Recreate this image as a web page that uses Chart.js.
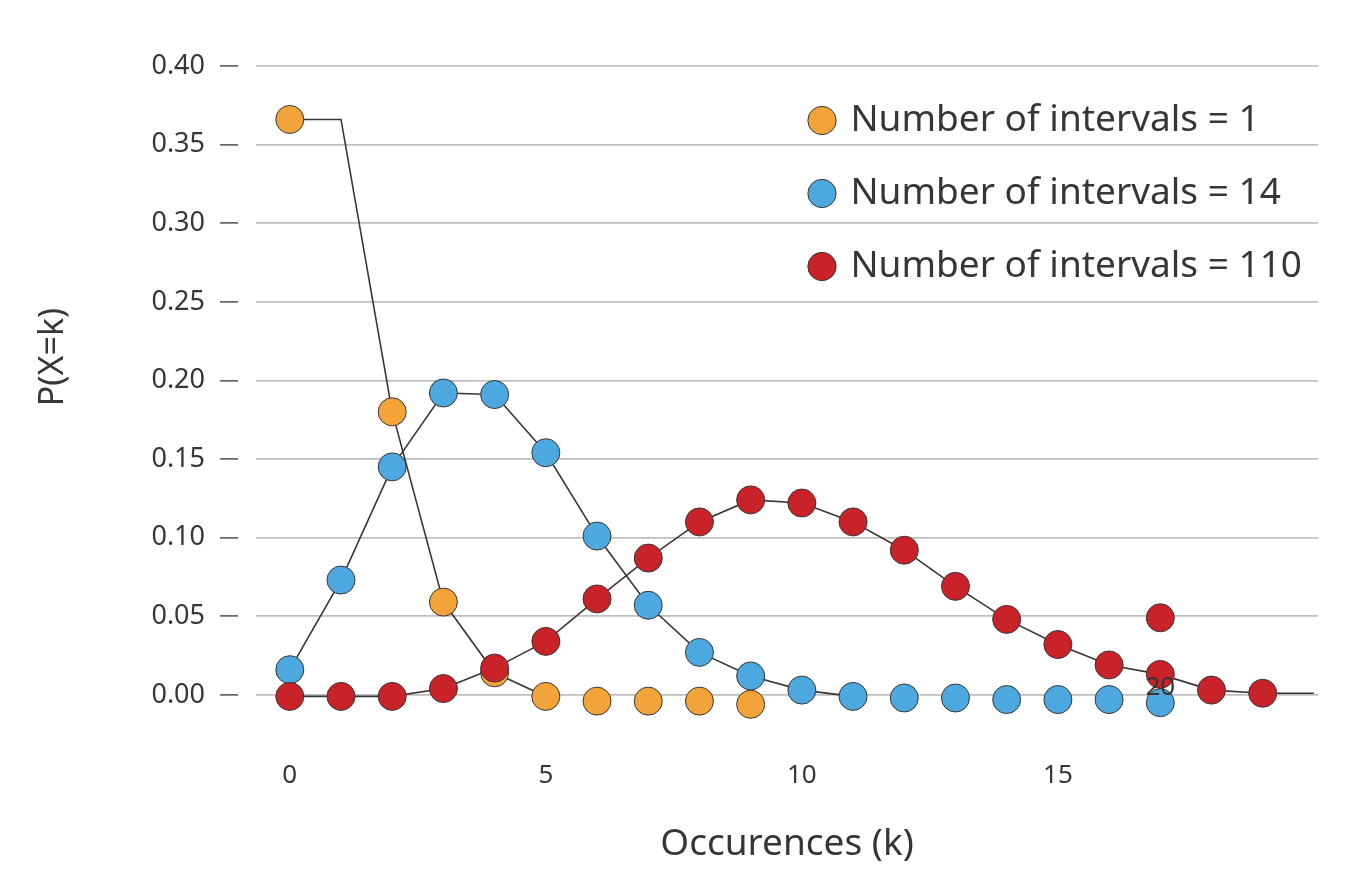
<!DOCTYPE html>
<html>
<head>
<meta charset="utf-8">
<title>Poisson</title>
<script src="https://cdn.jsdelivr.net/npm/chart.js@4.4.1/dist/chart.umd.min.js"></script>
<style>
  html, body { margin: 0; padding: 0; background: #fff; }
  #wrap { width: 1361px; height: 892px; position: relative; }
</style>
</head>
<body>
<div id="wrap"><canvas id="canvas"></canvas></div>
<script>
// k values and probabilities
var kValues = [0, 1, 2, 3, 4, 5, 6, 7, 8, 9, 10, 11, 12, 13, 14, 15, 16, 17, 18, 19, 20];

var orangeMarkers = [0.366, null, 0.180, 0.059, 0.014, -0.001, -0.004, -0.004, -0.004, -0.006];
var orangeLine = [0.366, 0.366, 0.180, 0.059, 0.014, -0.001];

var blueMarkers = [0.016, 0.073, 0.145, 0.192, 0.191, 0.154, 0.101, 0.057, 0.027, 0.012, 0.003,
                   -0.001, -0.002, -0.002, -0.003, -0.003, -0.003, -0.005];
var blueLine = [0.016, 0.073, 0.145, 0.192, 0.191, 0.154, 0.101, 0.057, 0.027, 0.012, 0.003, -0.001];

var redMarkers = [-0.001, -0.001, -0.001, 0.004, 0.017, 0.034, 0.061, 0.087, 0.110, 0.124, 0.122,
                  0.110, 0.092, 0.069, 0.048, 0.032, 0.019, 0.013, 0.003, 0.001];
var redLine = [-0.001, -0.001, -0.001, 0.004, 0.017, 0.034, 0.061, 0.087, 0.110, 0.124, 0.122,
               0.110, 0.092, 0.069, 0.048, 0.032, 0.019, 0.013, 0.003, 0.001, 0.001];
var redStrayK = [17];
var redStrayP = [0.049];

// the "20" label that sits inside the plot
var strayTickText = ['20'];
var strayTickK = [17];
var strayTickP = [0.0045];

var seriesLabels = ['Number of intervals = 1', 'Number of intervals = 14', 'Number of intervals = 110'];
var xTicks = [0, 5, 10, 15];
var yTicks = [0, 0.05, 0.10, 0.15, 0.20, 0.25, 0.30, 0.35, 0.40];

var FONT = '"Noto Sans", "Open Sans", sans-serif';
var INK = '#3a3535';

function points(ks, vs) {
    var out = [];
    for (var i = 0; i < vs.length; i++) {
        if (vs[i] !== null) out.push({x: ks[i], y: vs[i]});
    }
    return out;
}

function lineSet(vals) {
    return {
        type: 'line',
        data: points(kValues, vals),
        borderColor: INK,
        borderWidth: 1.6,
        pointRadius: 0,
        fill: false,
        order: 5,
        clip: false
    };
}

function markerSet(label, vals, color, order) {
    return {
        type: 'scatter',
        label: label,
        data: points(kValues, vals),
        backgroundColor: color,
        borderColor: INK,
        borderWidth: 1,
        pointRadius: 14,
        pointStyle: 'circle',
        order: order,
        clip: false
    };
}

var overlay = {
    id: 'overlay',
    afterLayout: function(chart) {
        // legend sits inside the plot, top right
        var lg = chart.legend;
        lg.left = chart.chartArea.right - 542;
        lg.right = chart.width;
        lg.top = chart.chartArea.top;
        lg.bottom = chart.chartArea.bottom;
    },
    afterDraw: function(chart) {
        var ctx = chart.ctx;
        var xs = chart.scales.x, ys = chart.scales.y;
        ctx.save();
        ctx.fillStyle = INK;
        ctx.textAlign = 'center';
        ctx.textBaseline = 'middle';
        ctx.font = '26px ' + FONT;
        for (var i = 0; i < strayTickText.length; i++) {
            ctx.fillText(strayTickText[i], xs.getPixelForValue(strayTickK[i]), ys.getPixelForValue(strayTickP[i]));
        }
        // y axis title
        ctx.translate(53, chart.chartArea.top + 291);
        ctx.rotate(-Math.PI / 2);
        ctx.font = '34px ' + FONT;
        ctx.fillText('P(X=k)', 0, 0);
        ctx.restore();
    }
};

var redData = markerSet(seriesLabels[2], redMarkers, '#c92228', 1);
redData.data = redData.data.concat(points(redStrayK, redStrayP));

window.onload = function() {
    var ctx = document.getElementById('canvas').getContext('2d');
    window.chart = new Chart(ctx, {
        type: 'scatter',
        data: {
            datasets: [
                lineSet(orangeLine),
                lineSet(blueLine),
                lineSet(redLine),
                markerSet(seriesLabels[0], orangeMarkers, '#f2a33a', 3),
                markerSet(seriesLabels[1], blueMarkers, '#4da8df', 2),
                redData
            ]
        },
        options: {
            responsive: true,
            maintainAspectRatio: false,
            animation: false,
            layout: { padding: { top: 66, right: 43, bottom: 0, left: 0 } },
            plugins: {
                tooltip: { enabled: false },
                legend: {
                    position: 'chartArea',
                    align: 'start',
                    labels: {
                        usePointStyle: true,
                        boxWidth: 20,
                        boxHeight: 20,
                        padding: 36,
                        color: INK,
                        font: { family: FONT, size: 37 },
                        filter: function(item) { return !!item.text; },
                        sort: function(a, b) { return a.datasetIndex - b.datasetIndex; }
                    }
                }
            },
            scales: {
                x: {
                    type: 'linear',
                    min: -0.66,
                    max: 20.08,
                    afterBuildTicks: function(s) { s.ticks = xTicks.map(function(v) { return {value: v}; }); },
                    afterFit: function(s) { s.height = 150; },
                    grid: { display: false, drawTicks: false },
                    border: { display: false },
                    ticks: { padding: 18, color: INK, font: { family: FONT, size: 26 } },
                    title: {
                        display: true,
                        text: 'Occurences (k)',
                        color: INK,
                        font: { family: FONT, size: 37 },
                        padding: { top: 0, bottom: 25 }
                    }
                },
                y: {
                    min: -0.03,
                    max: 0.40,
                    afterBuildTicks: function(s) { s.ticks = yTicks.map(function(v) { return {value: v}; }); },
                    afterFit: function(s) { s.width = 256; },
                    grid: {
                        color: '#bfbfbf',
                        lineWidth: 1.8,
                        drawTicks: true,
                        tickLength: 36,
                        tickColor: INK,
                        tickWidth: 1.3,
                        tickBorderDash: [18, 18]
                    },
                    border: { display: false },
                    ticks: {
                        padding: 15,
                        color: INK,
                        font: { family: FONT, size: 27 },
                        callback: function(v) { return v.toFixed(2); }
                    }
                }
            }
        },
        plugins: [overlay]
    });
};
</script>
</body>
</html>
